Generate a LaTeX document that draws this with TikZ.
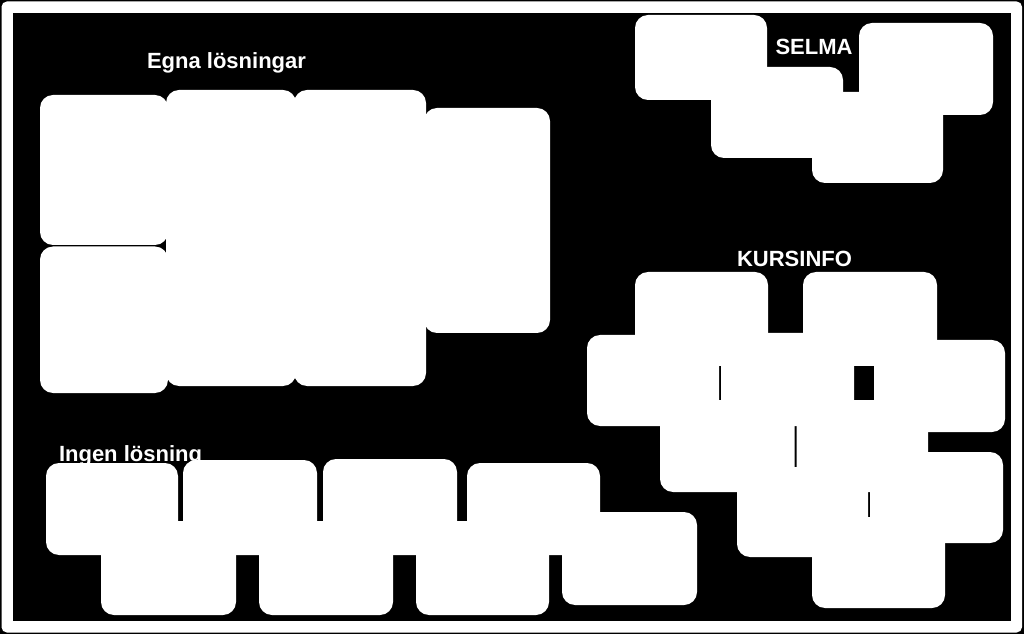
\documentclass[tikz,border=0pt]{standalone}
\usepackage{fontspec}
\setmainfont{Liberation Sans}
\tikzset{
  box/.style={fill=white, rounded corners=9.75pt},
  lbl/.style={text=white, font=\fontsize{16.5}{18}\selectfont\bfseries, inner sep=0pt, anchor=base},
}
\begin{document}
\begin{tikzpicture}[x=0.75pt,y=-0.75pt]
\useasboundingbox (0,0) rectangle (1024,634);
% frame
\fill[black] (0,0) rectangle (1024,634);
\fill[white, rounded corners=4pt] (1.5,1.5) rectangle (1022,632.5);
\fill[black] (13,13) rectangle (1011,621);

% labels
\node[lbl] (egna) at (226.5,69) {Egna lösningar};
\node[lbl] (selma) at (814,55) {SELMA};
\node[lbl] (kurs) at (794.5,266.5) {KURSINFO};
\node[lbl] (ingen) at (130.5,461.5) {Ingen lösning};

% Egna lösningar
\path[box] (40,95) rectangle (168,245);
\path[box] (40,246.5) rectangle (168,393);
\path[box] (166,90) rectangle (296,386);
\path[box] (294,90) rectangle (426,386);
\path[box] (424,108) rectangle (550,333);

% SELMA
\path[box] (635,15) rectangle (767,100);
\path[box] (711,67) rectangle (843,158);
\path[box] (859,23) rectangle (993,115);
\path[box] (812,92) rectangle (943,183);

% KURSINFO
\path[box] (635,272) rectangle (768,366);
\path[box] (803,272) rectangle (937,366);
\path[box] (587,335) rectangle (719,426);
\path[box] (721,333) rectangle (854,426);
\path[box] (874,340) rectangle (1005,432);
\path[box] (660,400) rectangle (794.5,492);
\path[box] (796.5,400) rectangle (928,492);
\path[box] (737,467) rectangle (868,557);
\path[box] (870,452) rectangle (1003,543);
\path[box] (812,517) rectangle (945,608);

% Ingen lösning
\path[box] (46,463) rectangle (178,555);
\path[box] (183,460) rectangle (317,555);
\path[box] (323,459) rectangle (457,555);
\path[box] (467,463) rectangle (600,555);
\path[box] (101,521) rectangle (236,615);
\path[box] (259,521) rectangle (393,615);
\path[box] (416,521) rectangle (549,615);
\path[box] (562,512) rectangle (697,605);
\end{tikzpicture}
\end{document}
